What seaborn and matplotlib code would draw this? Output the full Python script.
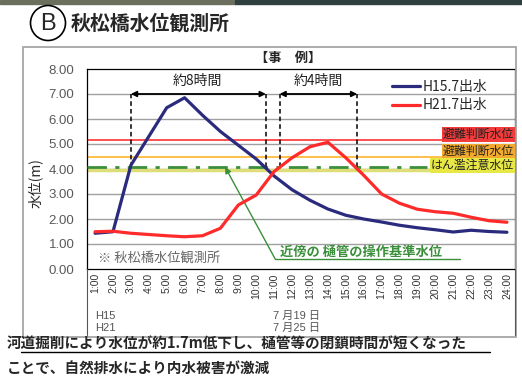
import pandas as pd
import matplotlib.pyplot as plt
import matplotlib.patches as mpatches
import matplotlib.transforms as mtransforms
import seaborn as sns

# hourly water level at Akimatsu bridge gauge (m)
hours = ['1:00', '2:00', '3:00', '4:00', '5:00', '6:00', '7:00', '8:00',
         '9:00', '10:00', '11:00', '12:00', '13:00', '14:00', '15:00', '16:00',
         '17:00', '18:00', '19:00', '20:00', '21:00', '22:00', '23:00', '24:00']
h15 = [1.43, 1.49, 4.15, 5.30, 6.45, 6.85, 6.15, 5.50, 4.95, 4.40, 3.72, 3.17,
       2.75, 2.40, 2.15, 2.00, 1.88, 1.75, 1.65, 1.57, 1.48, 1.55, 1.50, 1.47]
h21 = [1.49, 1.51, 1.43, 1.38, 1.33, 1.29, 1.33, 1.63, 2.56, 2.96, 3.90, 4.45,
       4.89, 5.07, 4.45, 3.75, 3.00, 2.63, 2.39, 2.29, 2.23, 2.07, 1.93, 1.87]
series_names = ['H15.7出水', 'H21.7出水']

# reference levels (m)
level_evac = 5.15      # 避難判断水位 (red)
level_evac2 = 4.50     # 避難判断水位 (orange)
level_gate = 4.10      # 樋管の操作基準水位
level_warn = 3.95      # はん濫注意水位

# closing periods (category positions)
span8 = (2.0, 9.54)
span4 = (10.3, 14.64)

df = pd.DataFrame({
    'pos': list(range(len(hours))) * 2,
    'series': [series_names[0]] * len(hours) + [series_names[1]] * len(hours),
    'value': h15 + h21,
})

sns.set_style('white')
plt.rcParams['font.family'] = ['Noto Sans CJK JP', 'DejaVu Sans']
num_font = ['Liberation Sans', 'Noto Sans CJK JP']

W, H = 522, 376
fig = plt.figure(figsize=(W / 100, H / 100), dpi=100)


def fx(x):
    return x / W


def fy(y):
    return 1 - y / H


# thin photo strip at the very top
fig.patches.append(mpatches.Rectangle((0, fy(4)), fx(235), 4 / H, transform=fig.transFigure,
                                      color='#6b6f5e', zorder=0))
fig.patches.append(mpatches.Rectangle((fx(235), fy(4)), 1, 4 / H, transform=fig.transFigure,
                                      color='#2f403f', zorder=0))

# outer gray frame
fig.patches.append(mpatches.Rectangle((fx(22.7), fy(337)), fx(516 - 22.7), (337 - 46.7) / H,
                                      transform=fig.transFigure, fill=False,
                                      edgecolor='#a6a6a6', lw=1.3, zorder=0))

# title with circled B
fig.patches.append(mpatches.Ellipse((fx(48), fy(23)), 35 / W, 35 / H, transform=fig.transFigure,
                                    fill=False, edgecolor='black', lw=1.2))
fig.text(fx(48), fy(23.5), 'B', fontsize=17, ha='center', va='center', family=num_font)
fig.text(fx(71), fy(23), '秋松橋水位観測所', fontsize=14.3, fontweight='bold', ha='left', va='center')

ax = fig.add_axes([fx(87), fy(269), 428 / W, 200 / H])

sns.lineplot(data=df, x='pos', y='value', hue='series', hue_order=series_names,
             palette=['#2b2b7e', '#ff2b2b'], linewidth=2.3, sort=False, ax=ax, zorder=5)

ax.set_xlim(-0.45, 23.45)
ax.set_ylim(0, 8)
ax.set_yticks([0, 1, 2, 3, 4, 5, 6, 7, 8])
ax.set_yticklabels([f'{v:.2f}' for v in range(9)], family=num_font, fontsize=9.5, color='#595959')
ax.set_xticks(range(len(hours)))
ax.set_xticklabels(hours, rotation=90, family=num_font, fontsize=7.5, color='#333333')
ax.tick_params(axis='y', length=0, pad=9)
ax.tick_params(axis='x', length=3, direction='in', pad=3, color='#777777')
ax.set_xlabel('')
ax.set_ylabel('')
for y in range(1, 8):
    ax.axhline(y, color='#a0a0a0', lw=1, zorder=1)
for s in ax.spines.values():
    s.set_color('black')
    s.set_linewidth(0.9)

# reference level lines
ax.axhline(level_evac, color='#ff5050', lw=1.4, zorder=2)
ax.axhline(level_evac2, color='#ffc04a', lw=1.4, zorder=2)
ax.axhline(level_warn, color='#dede78', lw=2.5, zorder=2)
ax.plot([-0.45, 18.55], [level_gate, level_gate], color='#3a8f3a', lw=2,
        dashes=(7, 3, 1.5, 3), zorder=3)

trans = mtransforms.blended_transform_factory(ax.transAxes, ax.transData)
label_style = dict(transform=trans, ha='right', va='center', fontsize=8.6,
                   color='#222222', zorder=6)
ax.text(0.997, 5.37, '避難判断水位',
        bbox=dict(boxstyle='square,pad=0.08', facecolor='#f23c3c', edgecolor='none'), **label_style)
ax.text(0.997, 4.71, '避難判断水位',
        bbox=dict(boxstyle='square,pad=0.08', facecolor='#f2aa2e', edgecolor='none'), **label_style)
ax.text(0.997, 4.15, 'はん濫注意水位',
        bbox=dict(boxstyle='square,pad=0.08', facecolor='#e8e845', edgecolor='none'), **label_style)

# closing period markers
for xv in (*span8, *span4):
    ax.plot([xv, xv], [level_gate, 7.0], color='black', lw=1.1, dashes=(3, 2), zorder=4)
for a, b in (span8, span4):
    ax.annotate('', xy=(b, 7.0), xytext=(a, 7.0),
                arrowprops=dict(arrowstyle='<|-|>', color='black', lw=1.3,
                                mutation_scale=8, shrinkA=0, shrinkB=0), zorder=4)
ax.text(5.7, 7.52, '約8時間', ha='center', va='center', fontsize=10, color='#222222')
ax.text(12.45, 7.52, '約4時間', ha='center', va='center', fontsize=10, color='#222222')

# gate operating level note
green = '#3a8f3a'
ax.plot([10.06, 20.4], [0.4, 0.4], color=green, lw=1)
ax.annotate('', xy=(7.26, 4.08), xytext=(10.06, 0.4),
            arrowprops=dict(arrowstyle='-|>', color=green, lw=1, mutation_scale=9,
                            shrinkA=0, shrinkB=0))
ax.text(10.3, 0.7, '近傍の 樋管の操作基準水位', ha='left', va='center', fontsize=9.5,
        color=green, fontweight='bold')
ax.text(0.15, 0.45, '※ 秋松橋水位観測所', ha='left', va='center', fontsize=9.5, color='#666666')

ax.legend(loc='upper left', bbox_to_anchor=(0.70, 0.975), frameon=False, fontsize=10,
          handlelength=2.0, handletextpad=0.2, labelspacing=0.35, borderaxespad=0)

fig.text(fx(288), fy(58), '【事　例】', ha='center', va='center', fontsize=9.5, fontweight='bold')
fig.text(fx(35), fy(183), '水位(m)', rotation=90, ha='center', va='center', fontsize=10)

# category area under the axis
for xp in (87, 515):
    fig.add_artist(plt.Line2D([fx(xp), fx(xp)], [fy(269), fy(335)], transform=fig.transFigure,
                              color='#555555', lw=0.8))
fig.text(fx(95), fy(316), 'H15', ha='left', va='center', fontsize=8, color='#555555', family=num_font)
fig.text(fx(95), fy(328), 'H21', ha='left', va='center', fontsize=8, color='#555555', family=num_font)
fig.text(fx(273), fy(316), '7 月19 日', ha='left', va='center', fontsize=8, color='#555555', family=num_font)
fig.text(fx(273), fy(328), '7 月25 日', ha='left', va='center', fontsize=8, color='#555555', family=num_font)

# summary text
fig.text(fx(7), fy(344), '河道掘削により水位が約1.7m低下し、樋管等の閉鎖時間が短くなった',
         ha='left', va='center', fontsize=10.5, fontweight='bold')
fig.add_artist(plt.Line2D([fx(21), fx(490)], [fy(352), fy(352)], transform=fig.transFigure,
                          color='black', lw=1))
fig.text(fx(7), fy(368), 'ことで、自然排水により内水被害が激減',
         ha='left', va='center', fontsize=10.5, fontweight='bold')

fig.savefig('out.png', dpi=100)
